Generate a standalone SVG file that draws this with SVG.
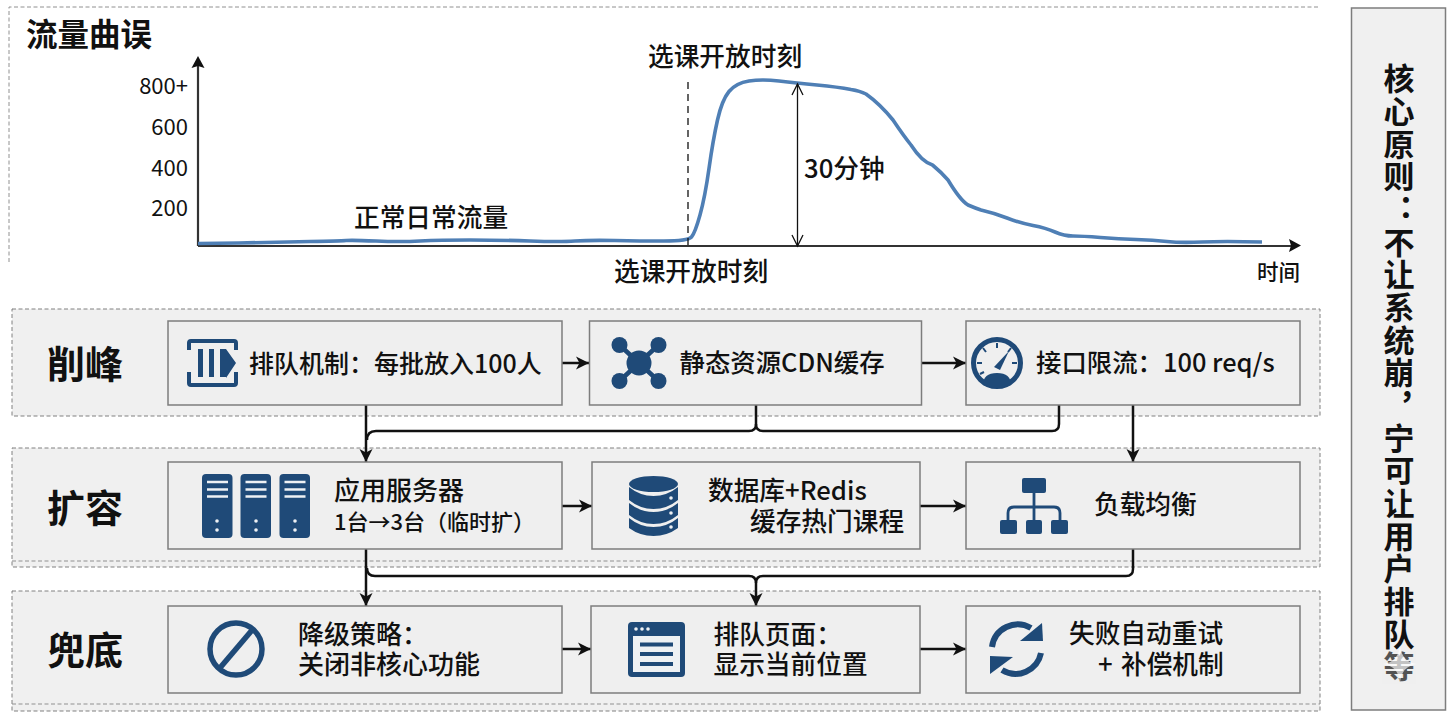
<svg xmlns="http://www.w3.org/2000/svg" width="1456" height="720" viewBox="0 0 1456 720">
<style>
text{font-family:"Noto Sans CJK SC","Noto Sans",sans-serif;fill:#111;font-weight:500}
.t{font-size:25.7px}
.h{font-size:38px;font-weight:700}
.y{font-size:22px;text-anchor:end;font-weight:400}
.band{fill:#f0f0f0;stroke:#808080;stroke-width:1;stroke-dasharray:4 2.5}
.in{fill:none;stroke:#909090;stroke-width:1;stroke-dasharray:4 2.5}
.box{fill:#efefef;stroke:#7d7d7d;stroke-width:1.5}
.i{fill:#1f4a78}
.is{fill:none;stroke:#1f4a78}
.w{fill:#eef1f4}
.c{fill:none;stroke:#111;stroke-width:2.5}
.ca{fill:none;stroke:#111;stroke-width:2.5;marker-end:url(#ah)}
</style>
<defs>
<marker id="ah" markerUnits="userSpaceOnUse" markerWidth="16" markerHeight="16" refX="14" refY="8" orient="auto"><path d="M1 1.500L14 8L1 14.500L4.500 8Z" fill="#111"/></marker>
<marker id="op" markerUnits="userSpaceOnUse" markerWidth="16" markerHeight="16" refX="13" refY="8" orient="auto-start-reverse"><path d="M2 2.500L13 8L2 13.500" fill="none" stroke="#111" stroke-width="1.300"/></marker>
</defs>
<rect width="1456" height="720" fill="#fff"/>

<g id="chart">
<path d="M9 262V7H1320" fill="none" stroke="#909090" stroke-width="1" stroke-dasharray="4 2.500"/>
<text x="26" y="46" style="font-size:31.500px;font-weight:700">流量曲误</text>
<path d="M198 246V62M198 246H1294" fill="none" stroke="#333" stroke-width="2.200"/>
<path d="M198 56L204.500 68L198 66L191.500 68Z" fill="#111"/>
<path d="M1301 245.500L1289 239L1291 245.500L1289 252Z" fill="#111"/>
<text class="y" x="188" y="94">800+</text>
<text class="y" x="188" y="135">600</text>
<text class="y" x="188" y="176">400</text>
<text class="y" x="188" y="216">200</text>
<path d="M198 243.500L239 243Q280 242 310 241.500Q340 241 346 240.500Q352 240 376 241Q400 242 420 241Q440 240 470 240Q500 240 530 241Q560 242 575 241Q590 240 615 240.500Q640 241 664 241Q688 241 691.500 237Q695 233 700 215Q705 197 709 168.500Q713 140 717.500 120Q722 100 729 91.500Q736 83 749 81Q762 79 779 81Q796 83 817 85Q838 87 851 89.500Q860 91 866 94Q880 104 893 120Q903 135 911 145Q922 162 932.500 165Q941 172 948 180Q960 200 968 205Q975 208 981 210Q994 213 1007 218Q1020 223 1033 225.500Q1046 228 1055 232Q1064 236 1073 236Q1082 236 1100.500 237.500Q1119 239 1136 239.500Q1153 240 1167 241.500Q1181 243 1202 242Q1223 241 1262 242" fill="none" stroke="#4f7fb5" stroke-width="3.600" stroke-linejoin="round"/>
<path d="M688 82V246" fill="none" stroke="#111" stroke-width="1.300" stroke-dasharray="7 5"/>
<path d="M797.500 84V246" fill="none" stroke="#111" stroke-width="1.300" marker-start="url(#op)" marker-end="url(#op)"/>
<text class="t" x="648" y="66">选课开放时刻</text>
<text class="t" x="614" y="281">选课开放时刻</text>
<text class="t" x="354" y="227">正常日常流量</text>
<text class="t" x="804" y="178">30分钟</text>
<text x="1257" y="280" style="font-size:21.500px">时间</text>
</g>

<g id="band-peak"><rect class="band" x="12" y="309" width="1308" height="107"/><text class="h" x="47" y="378">削峰</text></g>
<g id="band-scale"><rect class="band" x="12" y="448" width="1308" height="119"/><path class="in" d="M12 561H1320"/><text class="h" x="47" y="522">扩容</text></g>
<g id="band-fallback"><rect class="band" x="12" y="591" width="1308" height="120"/><path class="in" d="M12 704H1320"/><text class="h" x="47" y="664">兜底</text></g>

<g id="connectors">
<path class="ca" d="M562 363H589"/>
<path class="ca" d="M921 363H966"/>
<path class="ca" d="M562 506H592"/>
<path class="ca" d="M920 506H966"/>
<path class="ca" d="M562 649H591"/>
<path class="ca" d="M920 649H966"/>
<path class="ca" d="M366 405V462"/>
<path class="c" d="M756 405V424Q756 431 749 431H376Q367 431 367 440"/>
<path class="c" d="M1059 405V424Q1059 431 1052 431H763Q756 431 756 424"/>
<path class="ca" d="M1133 405V462"/>
<path class="ca" d="M366 549V606"/>
<path class="c" d="M1133 549V569Q1133 576 1126 576H763Q756 576 756 583"/>
<path class="c" d="M756 583Q756 576 749 576H375Q367 576 367 568"/>
<path class="ca" d="M756 583V606"/>
</g>

<g id="node-queue"><rect class="box" x="168" y="321" width="394" height="84"/>
<path class="is" stroke-width="4" d="M189 350V343Q189 341 191 341H234Q236 341 236 343V350M189 372V383Q189 385 191 385H234Q236 385 236 383V372"/>
<path class="i" d="M198 349h5v28h-5zM209 349h5v28h-5zM220 349h6v28h-6zM226 349l10 14l-10 15z"/>
<text x="249" y="373" style="font-size:25px">排队机制：每批放入100人</text></g>

<g id="node-cdn"><rect class="box" x="589.500" y="321" width="332" height="84"/>
<path class="is" stroke-width="4.500" d="M619.500 345L658.500 381M658.500 345L619.500 381"/>
<circle class="i" cx="639" cy="363" r="12.500"/><circle class="i" cx="619.500" cy="345" r="8"/><circle class="i" cx="658.500" cy="345" r="8"/><circle class="i" cx="619.500" cy="381" r="8"/><circle class="i" cx="658.500" cy="381" r="8"/>
<text x="679.500" y="372" style="font-size:25.400px">静态资源CDN缓存</text></g>

<g id="node-limit"><rect class="box" x="966" y="321" width="334" height="84"/>
<circle class="is" stroke-width="5" cx="997" cy="363" r="23.500"/>
<path class="i" d="M983 385Q983 373 997 373Q1011 373 1011 385Q997 391 983 385Z"/>
<path class="i" d="M1009 351L1000 370L994 367Z"/>
<path class="is" stroke-width="2" d="M997 343V348M983 348L986 352M1011 348L1008 352M977 363H982M1017 363H1012M980 374L984 372"/>
<text x="1036" y="372" style="font-size:25.400px">接口限流：100 req/s</text></g>

<g id="node-app"><rect class="box" x="168" y="462" width="394" height="87"/>
<rect class="i" x="202" y="474" width="30.500" height="64" rx="4"/><path d="M207 482h21M207 489.500h21M207 496.500h21" stroke="#eef1f4" stroke-width="2.600"/><circle class="w" cx="217" cy="521" r="1.800"/><circle class="w" cx="217" cy="530" r="1.800"/>
<rect class="i" x="240.500" y="474" width="30.500" height="64" rx="4"/><path d="M245.500 482h21M245.500 489.500h21M245.500 496.500h21" stroke="#eef1f4" stroke-width="2.600"/><circle class="w" cx="256" cy="521" r="1.800"/><circle class="w" cx="256" cy="530" r="1.800"/>
<rect class="i" x="279.500" y="474" width="30.500" height="64" rx="4"/><path d="M284.500 482h21M284.500 489.500h21M284.500 496.500h21" stroke="#eef1f4" stroke-width="2.600"/><circle class="w" cx="295" cy="521" r="1.800"/><circle class="w" cx="295" cy="530" r="1.800"/>
<text x="334" y="500" style="font-size:26px">应用服务器<tspan x="334" y="530" style="font-size:22px">1台→3台（临时扩）</tspan></text></g>

<g id="node-db"><rect class="box" x="592" y="462" width="328" height="87"/>
<ellipse class="i" cx="653.500" cy="484" rx="24.500" ry="8"/>
<path class="i" d="M629 487Q640 496 653.500 496Q667 496 678 487V500Q667 509 653.500 509Q640 509 629 500Z"/>
<path class="i" d="M629 503Q640 512 653.500 512Q667 512 678 503V515Q667 524 653.500 524Q640 524 629 515Z"/>
<path class="i" d="M629 518Q640 527 653.500 527Q667 527 678 518V528Q667 536 653.500 536Q640 536 629 528Z"/>
<circle class="w" cx="671" cy="498" r="1.800"/><circle class="w" cx="671" cy="513" r="1.800"/><circle class="w" cx="671" cy="527" r="1.800"/>
<text class="t" x="708" y="500">数据库+Redis<tspan x="750" y="531">缓存热门课程</tspan></text></g>

<g id="node-lb"><rect class="box" x="966" y="462" width="334" height="87"/>
<rect class="i" x="1022" y="478" width="24" height="15" rx="2"/>
<path class="is" stroke-width="2.800" d="M1034 493V522M1008 522V513Q1008 507 1014 507H1054Q1060 507 1060 513V522"/>
<rect class="i" x="1000" y="520" width="17" height="14" rx="2"/><rect class="i" x="1026" y="520" width="16" height="14" rx="2"/><rect class="i" x="1051" y="520" width="17" height="14" rx="2"/>
<text class="t" x="1094" y="514">负载均衡</text></g>

<g id="node-degrade"><rect class="box" x="168" y="606" width="394" height="87"/>
<circle class="is" stroke-width="5.500" cx="236" cy="649" r="26"/>
<path class="is" stroke-width="5.500" d="M219 669L253 629"/>
<text x="298" y="644" style="font-size:26px">降级策略：<tspan x="298" y="674">关闭非核心功能</tspan></text></g>

<g id="node-page"><rect class="box" x="591" y="606" width="329" height="87"/>
<rect class="i" x="628" y="622" width="57" height="55" rx="4"/>
<rect class="w" x="633" y="636" width="47" height="36"/>
<circle class="w" cx="636" cy="629" r="1.800"/><circle class="w" cx="642" cy="629" r="1.800"/><circle class="w" cx="648" cy="629" r="1.800"/>
<path class="i" d="M640 642.500h33v4h-33zM640 652h33v4h-33zM640 662h33v4h-33z"/>
<text class="t" x="713.500" y="644">排队页面：<tspan x="713.500" y="674">显示当前位置</tspan></text></g>

<g id="node-retry"><rect class="box" x="966" y="606" width="334" height="87"/>
<path class="is" stroke-width="6" d="M992 647A26 26 0 0 1 1031 628"/>
<path class="i" d="M1042 623L1043 641L1020 641Z"/>
<path class="is" stroke-width="6" d="M1041 653A26 26 0 0 1 1002 670"/>
<path class="i" d="M990 674L990 656L1013 657Z"/>
<text class="t" x="1069" y="643">失败自动重试<tspan x="1098" y="674">+</tspan><tspan x="1121" y="674">补偿机制</tspan></text></g>

<g id="principle"><rect x="1351.500" y="8" width="94" height="702" fill="#f0f0f0" stroke="#7d7d7d" stroke-width="1.500"/>
<text x="1399" y="63" style="font-size:31px;font-weight:700;writing-mode:vertical-rl;text-orientation:upright;letter-spacing:1.670px">核心原则：不让系统崩，宁可让用户排队等</text>
<rect x="1382" y="651" width="34" height="33" fill="#f0f0f0" opacity=".3"/>
<path d="M1400 646Q1402 662 1417 664Q1402 666 1400 682Q1398 666 1383 664Q1398 662 1400 646Z" fill="#fff" opacity=".65"/>
</g>
</svg>
